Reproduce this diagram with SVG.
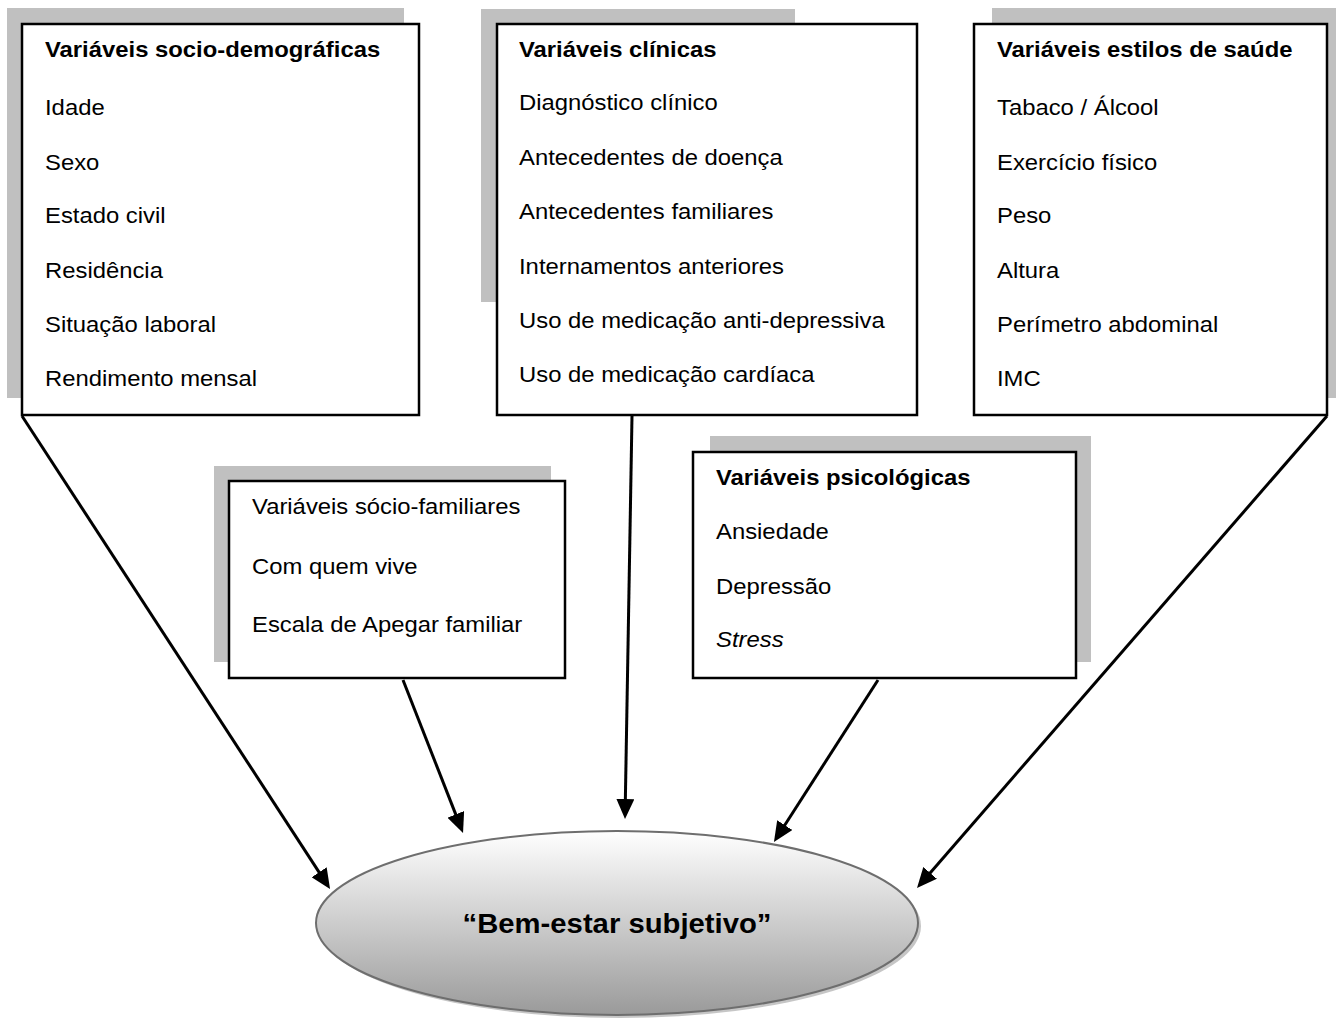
<svg xmlns="http://www.w3.org/2000/svg" width="1336" height="1021" viewBox="0 0 1336 1021">
<style>
.shadow{fill:#c0c0c0}
.box{fill:#ffffff;stroke:#000000;stroke-width:2.5}
.t{font-family:"Liberation Sans",Arial,sans-serif;font-size:22.5px;fill:#000000}
.b{font-weight:bold}
.i{font-style:italic}
.conn{stroke:#000000;stroke-width:3;fill:none;marker-end:url(#arr)}
</style>
<defs>
<marker id="arr" markerUnits="userSpaceOnUse" markerWidth="20" markerHeight="18" refX="4" refY="9" orient="auto" viewBox="0 0 20 18">
<path d="M0,0 L20,9 L0,18 z" fill="#000000"/>
</marker>
<linearGradient id="eg" x1="0" y1="0" x2="0" y2="1">
<stop offset="0" stop-color="#ffffff"/>
<stop offset="1" stop-color="#9a9a9a"/>
</linearGradient>
</defs>
<rect width="1336" height="1021" fill="#ffffff"/>

<g id="node-sociodemograficas">
<rect class="shadow" x="7" y="8" width="397" height="390"/>
<rect class="box" x="22" y="24" width="397" height="391"/>
<g transform="translate(45,0) scale(1.06,1)">
<text class="t b" x="0" y="57">Variáveis socio-demográficas</text>
<text class="t" x="0" y="115">Idade</text>
<text class="t" x="0" y="170">Sexo</text>
<text class="t" x="0" y="223">Estado civil</text>
<text class="t" x="0" y="278">Residência</text>
<text class="t" x="0" y="332">Situação laboral</text>
<text class="t" x="0" y="386">Rendimento mensal</text>
</g>
</g>

<g id="node-clinicas">
<rect class="shadow" x="481" y="9" width="314" height="293"/>
<rect class="box" x="497" y="24" width="420" height="391"/>
<g transform="translate(519,0) scale(1.06,1)">
<text class="t b" x="0" y="57">Variáveis clínicas</text>
<text class="t" x="0" y="110">Diagnóstico clínico</text>
<text class="t" x="0" y="165">Antecedentes de doença</text>
<text class="t" x="0" y="219">Antecedentes familiares</text>
<text class="t" x="0" y="274">Internamentos anteriores</text>
<text class="t" x="0" y="328">Uso de medicação anti-depressiva</text>
<text class="t" x="0" y="382">Uso de medicação cardíaca</text>
</g>
</g>

<g id="node-estilos-saude">
<rect class="shadow" x="992" y="8" width="344" height="390"/>
<rect class="box" x="974" y="24" width="353" height="391"/>
<g transform="translate(997,0) scale(1.06,1)">
<text class="t b" x="0" y="57">Variáveis estilos de saúde</text>
<text class="t" x="0" y="115">Tabaco / Álcool</text>
<text class="t" x="0" y="170">Exercício físico</text>
<text class="t" x="0" y="223">Peso</text>
<text class="t" x="0" y="278">Altura</text>
<text class="t" x="0" y="332">Perímetro abdominal</text>
<text class="t" x="0" y="386">IMC</text>
</g>
</g>

<g id="node-socio-familiares">
<rect class="shadow" x="214" y="466" width="337" height="196"/>
<rect class="box" x="229" y="481" width="336" height="197"/>
<g transform="translate(252,0) scale(1.06,1)">
<text class="t" x="0" y="514">Variáveis sócio-familiares</text>
<text class="t" x="0" y="574">Com quem vive</text>
<text class="t" x="0" y="632">Escala de Apegar familiar</text>
</g>
</g>

<g id="node-psicologicas">
<rect class="shadow" x="710" y="436" width="381" height="226"/>
<rect class="box" x="693" y="452" width="383" height="226"/>
<g transform="translate(716,0) scale(1.06,1)">
<text class="t b" x="0" y="485">Variáveis psicológicas</text>
<text class="t" x="0" y="539">Ansiedade</text>
<text class="t" x="0" y="594">Depressão</text>
<text class="t i" x="0" y="647">Stress</text>
</g>
</g>

<g id="node-bem-estar">
<ellipse cx="620" cy="926" rx="301" ry="92" fill="#b8b8b8" opacity="0.8"/>
<ellipse cx="617" cy="923" rx="301" ry="92" fill="url(#eg)" stroke="#6e6e6e" stroke-width="2"/>
<g transform="translate(617,0) scale(1.045,1)">
<text class="t b" x="0" y="933" text-anchor="middle" style="font-size:28px">“Bem-estar subjetivo”</text>
</g>
</g>

<g id="connectors">
<line class="conn" x1="22" y1="416" x2="321.3" y2="875.6"/>
<line class="conn" x1="403" y1="680" x2="457.2" y2="818.1"/>
<line class="conn" x1="632" y1="416" x2="625.3" y2="803"/>
<line class="conn" x1="878" y1="680" x2="782.6" y2="828.5"/>
<line class="conn" x1="1327" y1="416" x2="927.5" y2="875.9"/>
</g>
</svg>
